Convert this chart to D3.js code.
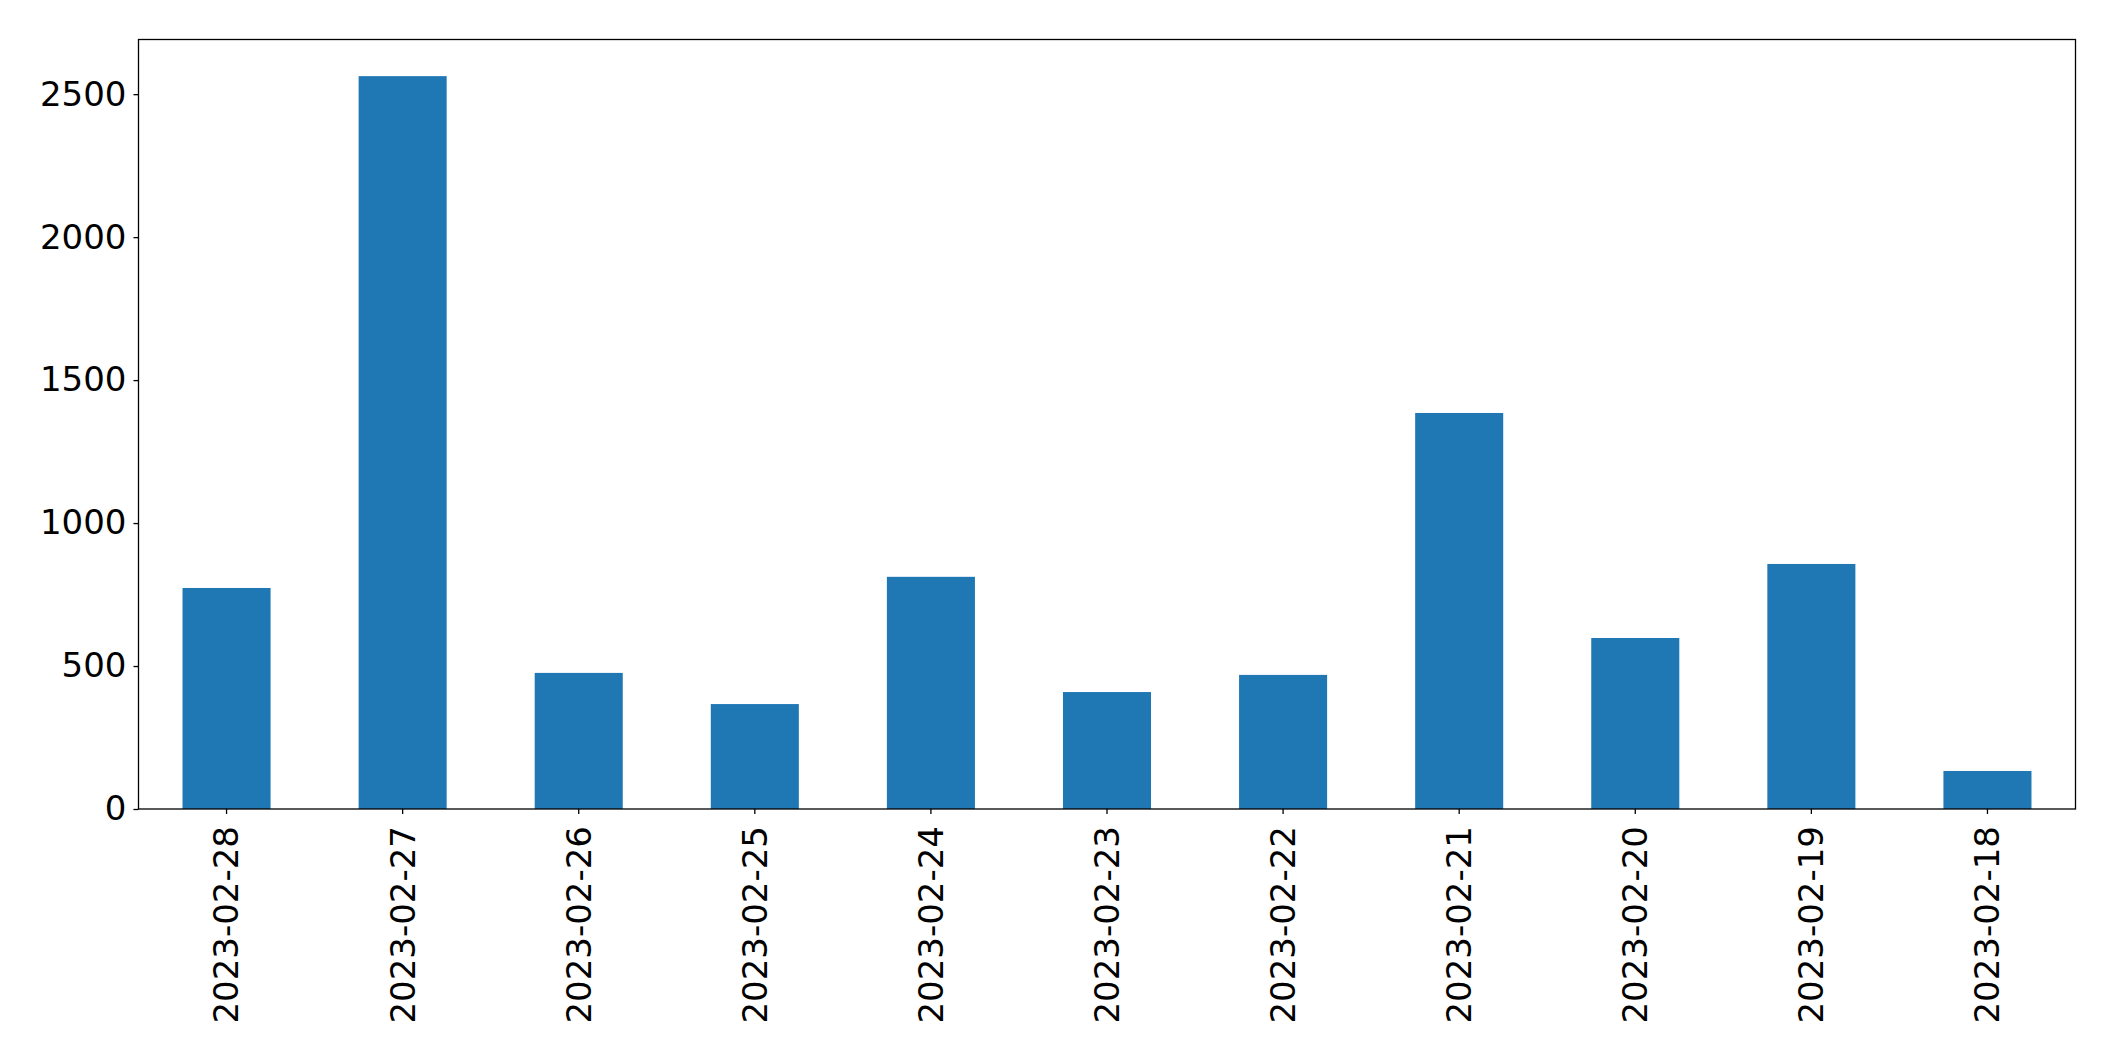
<!DOCTYPE html>
<html lang="en">
<head>
  <meta charset="utf-8">
  <title>Daily counts</title>
  <script src="https://cdn.jsdelivr.net/npm/d3@7/dist/d3.min.js"></script>
  <style>
    html, body { margin: 0; padding: 0; background: #fff; }
    svg { display: block; }
  </style>
</head>
<body>
  <div id="chart"></div>

  <script>
    // ── data ──
    const dates  = ['2023-02-28', '2023-02-27', '2023-02-26', '2023-02-25', '2023-02-24', '2023-02-23',
                    '2023-02-22', '2023-02-21', '2023-02-20', '2023-02-19', '2023-02-18'];
    const counts = [773, 2563, 476, 367, 812, 409, 469, 1385, 598, 857, 133];
    const yTicks = [0, 500, 1000, 1500, 2000, 2500];

    // ── layout ──
    const W = 2115, H = 1061;
    const m = { top: 39.5, right: 39.5, bottom: 252, left: 138.5 };
    const iw = W - m.left - m.right, ih = H - m.top - m.bottom;

    const svg = d3.select('#chart').append('svg')
      .attr('width', W).attr('height', H)
      .style('font-family', 'DejaVu Sans, sans-serif');

    const g = svg.append('g').attr('transform', `translate(${m.left},${m.top})`);

    // band scale: each category gets 1 unit, bars are half of it (pandas style)
    const x = d3.scaleBand().domain(dates).range([0, iw]).paddingInner(0.5).paddingOuter(0.25);
    const y = d3.scaleLinear().domain([0, d3.max(counts) * 1.05]).range([ih, 0]);

    g.selectAll('rect.bar')
      .data(dates)
      .join('rect')
        .attr('class', 'bar')
        .attr('x', d => x(d))
        .attr('width', x.bandwidth())
        .attr('y', (d, i) => y(counts[i]))
        .attr('height', (d, i) => ih - y(counts[i]))
        .attr('fill', '#1f77b4');

    // y axis
    const yAxis = g.append('g')
      .call(d3.axisLeft(y).tickValues(yTicks).tickSize(5).tickPadding(7).tickFormat(d3.format('d')));
    yAxis.select('.domain').remove();
    yAxis.selectAll('line').attr('stroke', '#000').attr('stroke-width', 1.3);
    yAxis.selectAll('text').attr('font-size', 34).attr('fill', '#000')
      .attr('font-family', 'DejaVu Sans, sans-serif');

    // x axis, labels rotated
    const xAxis = g.append('g')
      .attr('transform', `translate(0,${ih})`)
      .call(d3.axisBottom(x).tickSize(5).tickPadding(0));
    xAxis.select('.domain').remove();
    xAxis.selectAll('line').attr('stroke', '#000').attr('stroke-width', 1.3);
    xAxis.selectAll('text')
      .attr('font-size', 34).attr('fill', '#000')
      .attr('font-family', 'DejaVu Sans, sans-serif')
      .attr('text-anchor', 'end')
      .attr('transform', 'translate(0,17) rotate(-90)')
      .attr('x', 0).attr('y', 0).attr('dy', '0.35em');

    // frame
    g.append('rect')
      .attr('width', iw).attr('height', ih)
      .attr('fill', 'none').attr('stroke', '#000').attr('stroke-width', 1.3);
  </script>
</body>
</html>
